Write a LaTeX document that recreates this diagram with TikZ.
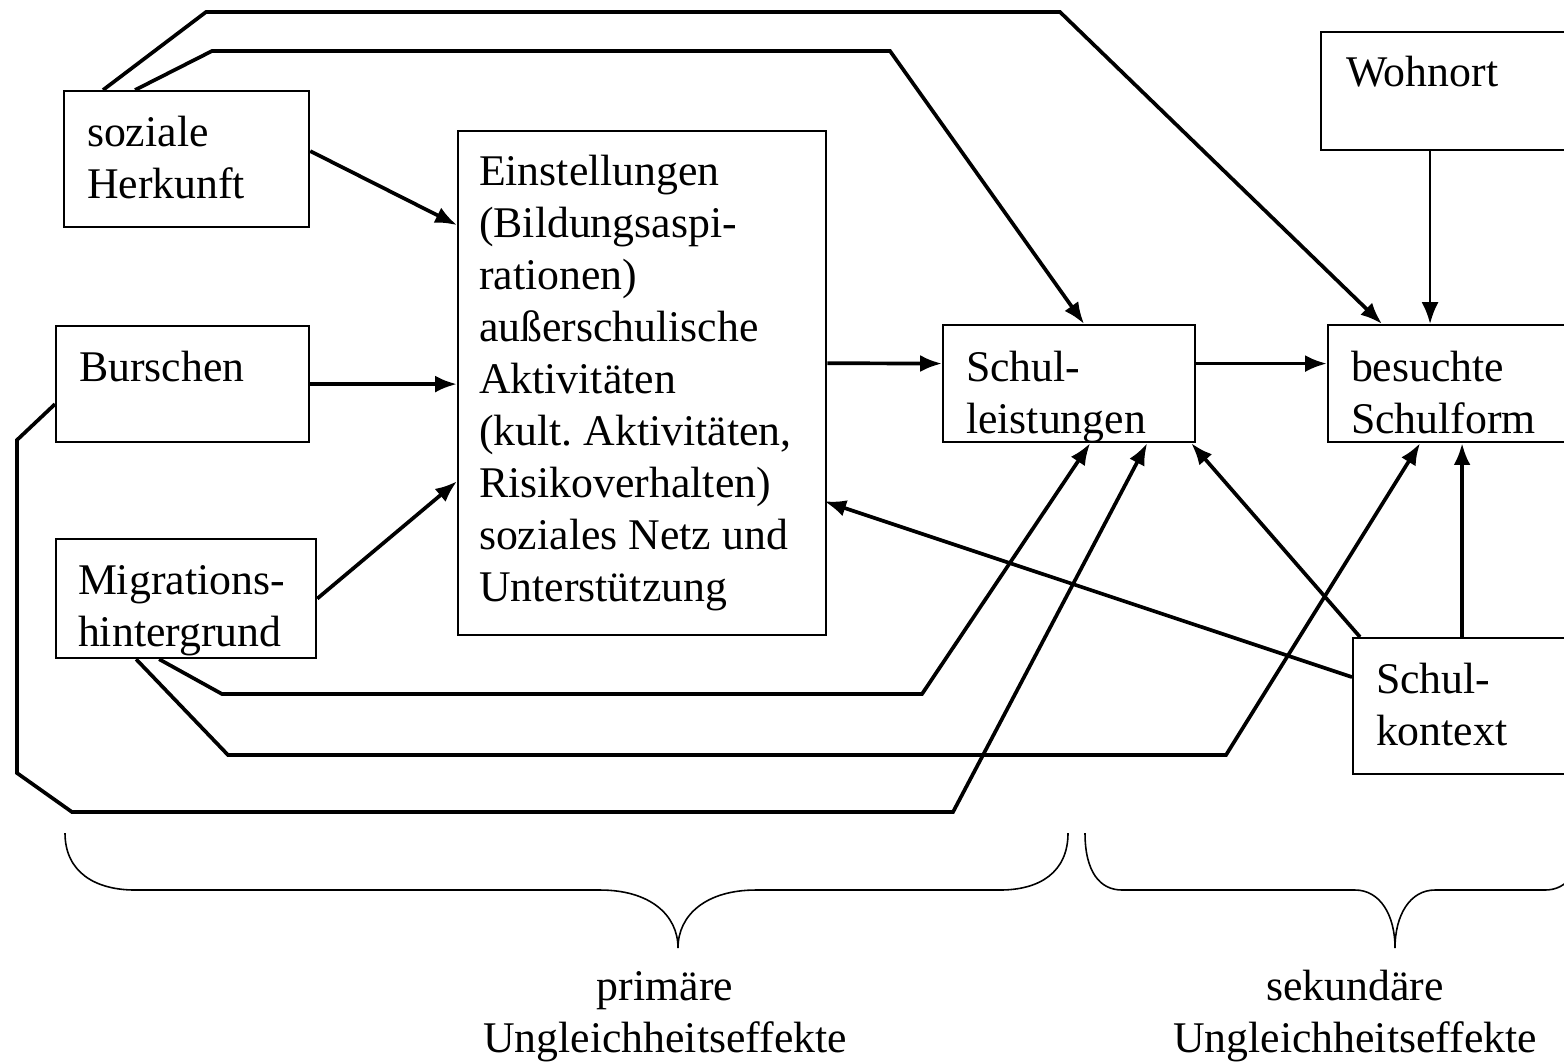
\documentclass[tikz,border=0pt]{standalone}
\usepackage{fontspec}
\setmainfont{Liberation Serif}
\usetikzlibrary{positioning, arrows.meta, calc}
\hyphenpenalty=10000

\begin{document}
\begin{tikzpicture}
[x=0.01cm, y=-0.01cm,
 box/.style={rectangle, draw, line width=0.6pt, anchor=north west, inner ysep=0pt, align=flush left},
 ->/.style={line width=1.05pt, arrows={-{Latex[length=6.2pt,width=4.8pt]}}},
 brace/.style={line width=0.45pt},
 effekt/.style={anchor=base, text width=4.2cm, align=center},
 font=\fontsize{12.45}{14.8}\selectfont]

\clip (0,0) rectangle (1564,1063);

% boxes
\node[box, inner xsep=0.23cm, text width=1.99cm, text height=0.55cm, text depth=0.81cm] (herkunft) at (63,90) {soziale\\Herkunft};
\node[box, inner xsep=0.23cm, text width=2.07cm, text height=0.55cm, text depth=0.61cm] (burschen) at (55,325) {Burschen};
\node[box, inner xsep=0.22cm, text width=2.16cm, text height=0.55cm, text depth=0.64cm] (migration) at (55,538) {Migrations-\\hintergrund};
\node[box, inner xsep=0.21cm, text width=3.26cm, text height=0.54cm, text depth=4.50cm] (einst) at (457,130)
  {Einstellungen\\(Bildungsaspi-\\rationen)\\außerschulische\\Aktivitäten\\(kult.\ Aktivitäten,\\Risikoverhalten)\\soziales Netz und\\Unterstützung};
\node[box, inner xsep=0.23cm, text width=2.06cm, text height=0.56cm, text depth=0.61cm] (leistung) at (942,324) {Schul-\\leistungen};
\node[box, inner xsep=0.23cm, text width=2.07cm, text height=0.56cm, text depth=0.61cm] (schulform) at (1327,324) {besuchte\\Schulform};
\node[box, inner xsep=0.25cm, text width=2.10cm, text height=0.54cm, text depth=0.64cm] (wohnort) at (1320,31) {Wohnort};
\node[box, inner xsep=0.23cm, text width=1.82cm, text height=0.55cm, text depth=0.81cm] (kontext) at (1352,637) {Schul-\\kontext};

% direct effects
\draw[->] ([yshift=0.08cm]herkunft.east) -- ([yshift=1.58cm]einst.west);
\draw[->] (burschen.east) -- (burschen.east -| einst.west);
\draw[->] (migration.east) -- ([yshift=-0.98cm]einst.west);
\draw[->] ([yshift=0.2cm]einst.east) -- ([yshift=0.2cm]leistung.west);
\draw[->] ([yshift=0.2cm]leistung.east) -- ([yshift=0.2cm]schulform.west);
\draw[->, line width=0.75pt] ([xshift=1.1cm]wohnort.south west) -- ([xshift=1.1cm]wohnort.south west |- schulform.north);
\draw[->] ([xshift=1.1cm]kontext.north west) -- ([xshift=1.1cm]kontext.north west |- schulform.south);
\draw[->] ([xshift=0.08cm]kontext.north west) -- ([xshift=-0.05cm]leistung.south east);
\draw[->] ([yshift=0.29cm]kontext.west) -- ([xshift=-0.03cm, yshift=-1.18cm]einst.east);

% long routes
\draw[->] ([xshift=0.4cm]herkunft.north west) -- (206,12) -- (1060,12) -- ([xshift=0.55cm]schulform.north west);
\draw[->] ([xshift=0.72cm]herkunft.north west) -- (212,51) -- (890,51) -- ([xshift=0.15cm]leistung.north);
\draw[->] ([yshift=-0.2cm]burschen.west) -- (17,440) -- (17,773) -- (72,812) -- (953,812) -- ([xshift=0.78cm]leistung.south);
\draw[->] ([xshift=-0.27cm]migration.south) -- (222,694) -- (922,694) -- ([xshift=0.21cm]leistung.south);
\draw[->] ([xshift=-0.5cm]migration.south) -- (228,755) -- (1226,755) -- ([xshift=0.93cm]schulform.south west);

% braces
\draw[brace] (65,833) .. controls (65,872) and (95,890) .. (135,890) -- (600,890)
  .. controls (650,890) and (678,915) .. (678,948) .. controls (678,915) and (706,890) .. (756,890)
  -- (1000,890) .. controls (1040,890) and (1068,872) .. (1068,833);
\draw[brace] (1085,833) .. controls (1085,872) and (1100,890) .. (1122,890) -- (1355,890)
  .. controls (1380,890) and (1395,915) .. (1395,948) .. controls (1395,915) and (1410,890) .. (1435,890)
  -- (1545,890) .. controls (1567,890) and (1582,872) .. (1582,833);
\node[effekt] (primaer) at (665,1000) {primäre\\Ungleichheitseffekte};
\node[effekt] (sekundaer) at (1355,1000) {sekundäre\\Ungleichheitseffekte};

\end{tikzpicture}
\end{document}
